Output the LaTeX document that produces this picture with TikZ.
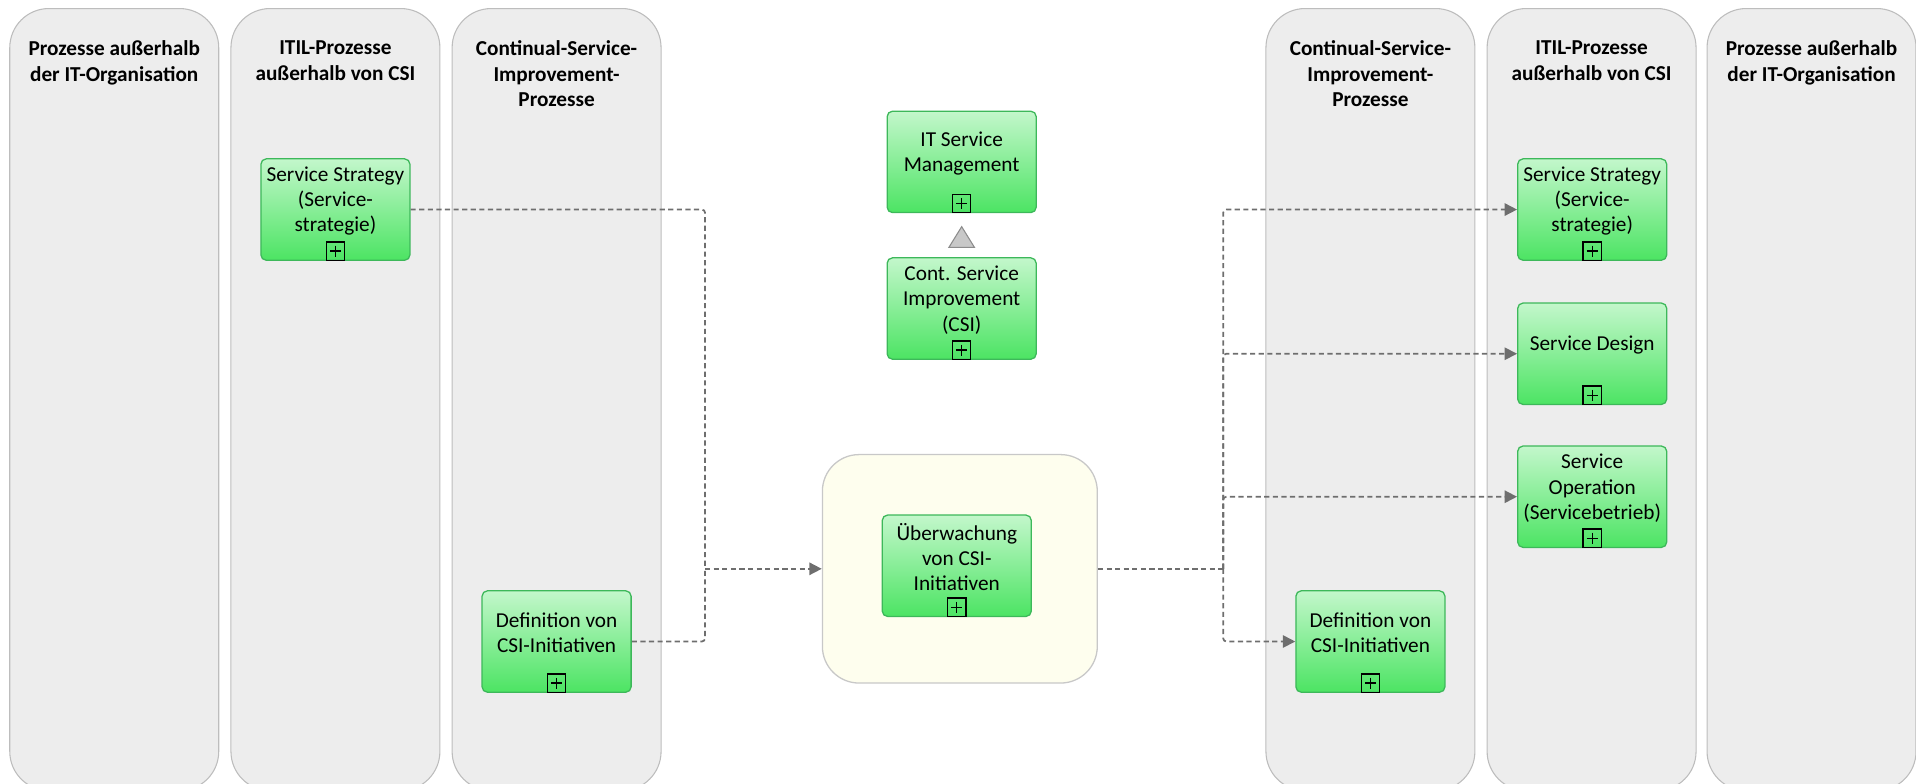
\documentclass[tikz,border=0pt]{standalone}
\usepackage{fontspec}
\setmainfont{Carlito}
\usetikzlibrary{arrows.meta}

\definecolor{lanegray}{HTML}{EDEDED}
\definecolor{laneline}{HTML}{BDBDBD}
\definecolor{boxtop}{HTML}{C3F7CB}
\definecolor{boxbot}{HTML}{4CE463}
\definecolor{boxline}{HTML}{3DB85A}
\definecolor{contfill}{HTML}{FEFEEE}
\definecolor{contline}{HTML}{C8C8C8}
\definecolor{flowgray}{HTML}{6E6E6E}
\definecolor{trigray}{HTML}{C8C8C8}
\definecolor{triline}{HTML}{8C8C8C}

\tikzset{
  lane/.style={draw=laneline, fill=lanegray, line width=0.5pt, rounded corners=0.64cm},
  lanetitle/.style={anchor=north, align=center, inner sep=0pt,
                    font=\bfseries\fontsize{9.9}{11.9}\selectfont},
  procbox/.style={draw=boxline, line width=0.6pt, rounded corners=2.5pt,
                  top color=boxtop, bottom color=boxbot,
                  minimum width=2.44cm, minimum height=1.66cm},
  proctext/.style={align=center, inner sep=0pt, font=\fontsize{9.9}{11.8}\selectfont},
  plusbox/.style={draw=black, line width=0.6pt, minimum size=0.3cm, inner sep=0pt, anchor=south,
                  path picture={
                    \draw[line width=0.6pt] ([xshift=1.7pt]path picture bounding box.west)
                        -- ([xshift=-1.7pt]path picture bounding box.east);
                    \draw[line width=0.6pt] ([yshift=-1.7pt]path picture bounding box.north)
                        -- ([yshift=1.7pt]path picture bounding box.south);}},
  contbox/.style={draw=contline, fill=contfill, line width=0.6pt, rounded corners=0.6cm,
                  minimum width=4.5cm, minimum height=3.74cm},
  flow/.style={color=flowgray, line width=0.8pt, dash pattern=on 2.4pt off 1.6pt, rounded corners=1.5pt},
  flowarrow/.style={flow, -{Triangle[length=5.8pt,width=5.8pt]}}
}

\begin{document}
\begin{tikzpicture}[x=0.02cm, y=-0.02cm]
\useasboundingbox (0,0) rectangle (1568,641);
\clip (0,0) rectangle (1568,641);

%% 泳道
\foreach \x in {8,189,370,1036,1217,1397}
  \draw[lane] (\x,7) rectangle ++(171,640);

\node[lanetitle] (hdA) at (93.5,33) {Prozesse außerhalb\\der IT-Organisation};
\node[lanetitle] (hdB) at (274.5,33) {ITIL-Prozesse\\außerhalb von CSI};
\node[lanetitle] (hdC) at (455.5,33) {Continual-Service-\\Improvement-\\Prozesse};
\node[lanetitle] (hdD) at (1121.5,33) {Continual-Service-\\Improvement-\\Prozesse};
\node[lanetitle] (hdE) at (1302.5,33) {ITIL-Prozesse\\außerhalb von CSI};
\node[lanetitle] (hdF) at (1482.5,33) {Prozesse außerhalb\\der IT-Organisation};

%% 中间
\node[contbox] (cont) at (785.5,465.5) {};

\node[procbox] (ssL)  at (274.5,171.5) {};
\node[procbox] (defL) at (455.5,525) {};
\node[procbox] (itsm) at (787,132.5) {};
\node[procbox] (csi)  at (787,252.5) {};
\node[procbox] (uew)  at (783,463) {};
\node[procbox] (ssR)  at (1303,171.5) {};
\node[procbox] (sdR)  at (1303,289.5) {};
\node[procbox] (soR)  at (1303,406.5) {};
\node[procbox] (defR) at (1121.5,525) {};

\node[proctext] at ([yshift=0.14cm]ssL) {Service Strategy\\(Service-\\strategie)};
\node[proctext] at ([yshift=0.14cm]defL) {Definition von\\CSI-Initiativen};
\node[proctext] at ([yshift=0.14cm]itsm) {IT Service\\Management};
\node[proctext] at ([yshift=0.14cm]csi) {Cont. Service\\Improvement\\(CSI)};
\node[proctext] at ([yshift=0.14cm]uew) {Überwachung\\von CSI-\\Initiativen};
\node[proctext] at ([yshift=0.14cm]ssR) {Service Strategy\\(Service-\\strategie)};
\node[proctext] at ([yshift=0.14cm]sdR) {Service Design};
\node[proctext] at ([yshift=0.14cm]soR) {Service\\Operation\\(Servicebetrieb)};
\node[proctext] at ([yshift=0.14cm]defR) {Definition von\\CSI-Initiativen};

\foreach \b in {ssL,defL,itsm,csi,uew,ssR,sdR,soR,defR}
  \node[plusbox] at (\b.south) {};

%% 三角形
\draw[fill=trigray, draw=triline, line width=0.5pt]
  ([yshift=-0.22cm]itsm.south) -- ++(-10.5,17) -- ++(21,0) -- cycle;

%% 连线
\coordinate (jL) at (577,465.5);
\coordinate (jR) at (1001,465.5);
\draw[flow] (ssL.east) -| (jL);
\draw[flow] (defL.east) -| (jL);
\draw[flowarrow] (jL) -- (cont.west);
\draw[flow] (cont.east) -- (jR);
\draw[flowarrow] (jR) |- (ssR.west);
\draw[flowarrow] (jR) |- (sdR.west);
\draw[flowarrow] (jR) |- (soR.west);
\draw[flowarrow] (jR) |- (defR.west);
\end{tikzpicture}
\end{document}
